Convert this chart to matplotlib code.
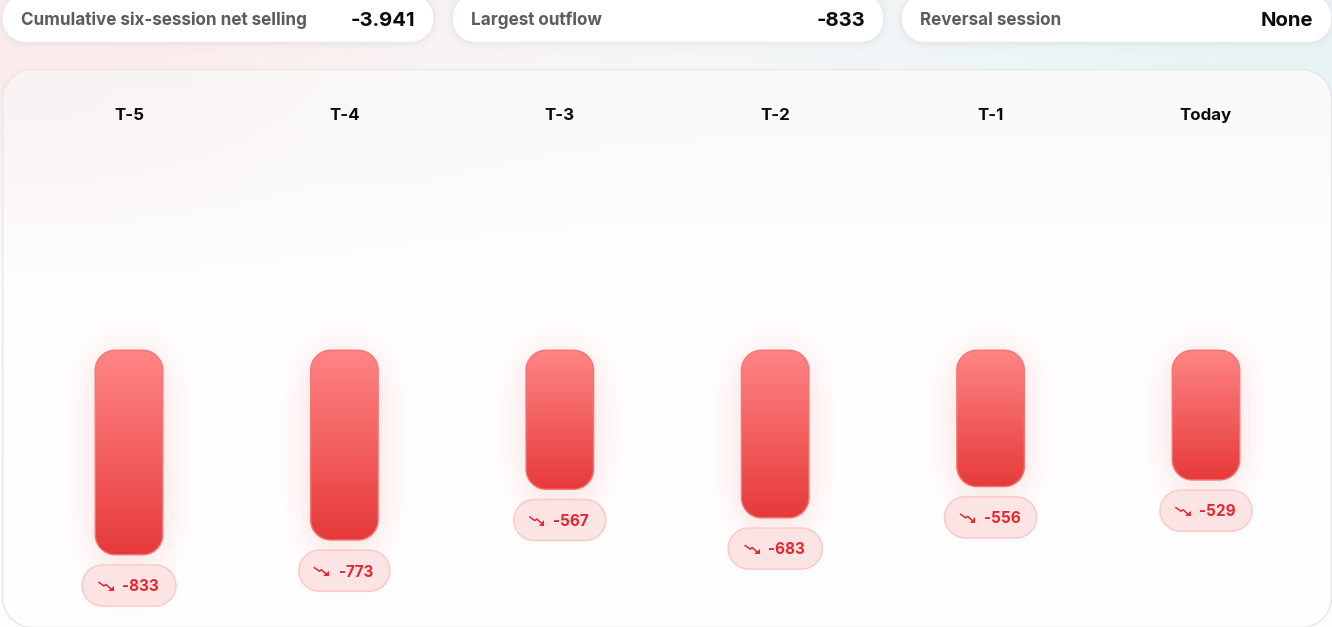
import numpy as np
import matplotlib
matplotlib.use("Agg")
import matplotlib.pyplot as plt
from matplotlib.patches import PathPatch
from matplotlib.path import Path
from matplotlib.colors import LinearSegmentedColormap

W, H = 1332, 627

sessions = ["T-5", "T-4", "T-3", "T-2", "T-1", "Today"]
net_flow = [-833, -773, -567, -683, -556, -529]
card_labels = ["Cumulative six-session net selling", "Largest outflow", "Reversal session"]
card_values = ["-3.941", "-833", "None"]

plt.rcParams['font.family'] = ['Inter', 'DejaVu Sans']


def rounded(x0, y0, x1, y1, r, **kw):
    # rounded box with proper circular corners
    c = r * (1 - 0.5523)
    verts = [(x0 + r, y0), (x1 - r, y0), (x1 - c, y0), (x1, y0 + c), (x1, y0 + r),
             (x1, y1 - r), (x1, y1 - c), (x1 - c, y1), (x1 - r, y1),
             (x0 + r, y1), (x0 + c, y1), (x0, y1 - c), (x0, y1 - r),
             (x0, y0 + r), (x0, y0 + c), (x0 + c, y0), (x0 + r, y0), (x0 + r, y0)]
    codes = [Path.MOVETO, Path.LINETO, Path.CURVE4, Path.CURVE4, Path.CURVE4,
             Path.LINETO, Path.CURVE4, Path.CURVE4, Path.CURVE4,
             Path.LINETO, Path.CURVE4, Path.CURVE4, Path.CURVE4,
             Path.LINETO, Path.CURVE4, Path.CURVE4, Path.CURVE4, Path.CLOSEPOLY]
    return PathPatch(Path(verts, codes), **kw)


def rr_mask(x0, y0, x1, y1, r):
    # antialiased mask of a rounded box on the pixel grid
    xx, yy = np.meshgrid(np.arange(W) + .5, np.arange(H) + .5)
    cx, cy = (x0 + x1) / 2, (y0 + y1) / 2
    qx = np.abs(xx - cx) - (x1 - x0) / 2 + r
    qy = np.abs(yy - cy) - (y1 - y0) / 2 + r
    d = np.hypot(np.maximum(qx, 0), np.maximum(qy, 0)) + np.minimum(np.maximum(qx, qy), 0) - r
    return np.clip(.5 - d, 0, 1)


def blur(m, sigma):
    k = np.exp(-.5 * (np.arange(-4*sigma, 4*sigma + 1) / sigma)**2)
    k /= k.sum()
    pad = len(k)
    m2 = np.pad(m, pad, mode='constant')
    m2 = np.apply_along_axis(lambda a: np.convolve(a, k, mode='same'), 0, m2)
    m2 = np.apply_along_axis(lambda a: np.convolve(a, k, mode='same'), 1, m2)
    return m2[pad:-pad, pad:-pad]


def over(img, color, alpha):
    c = np.array(matplotlib.colors.to_rgb(color))
    return img * (1 - alpha[..., None]) + c * alpha[..., None]


def soft(xx, yy, cx, cy, sx, sy):
    return np.exp(-.5 * (((xx - cx) / sx)**2 + ((yy - cy) / sy)**2))


fig = plt.figure(figsize=(W/100, H/100), dpi=100)

# value axes: sets where each bar sits, baseline at y=350px, 833 -> 205px
scale = 205 / 833
ax_val = fig.add_axes([0, 0, 1, 1], zorder=0)
step = 215.4
ax_val.set_xlim((0 - 129) / step, (W - 129) / step)
ax_val.set_ylim(-(H - 350) / scale, 350 / scale)
ax_val.axis('off')
bars = ax_val.bar(range(len(sessions)), net_flow, width=68 / step, color='none')

# pixel axes for the decoration
ax = fig.add_axes([0, 0, 1, 1], zorder=1)
ax.set_xlim(0, W)
ax.set_ylim(H, 0)
ax.axis('off')

geom = []
for b in bars:
    (x0, y0), (x1, y1) = ax_val.transData.transform(
        [(b.get_x(), b.get_y() + b.get_height()), (b.get_x() + b.get_width(), b.get_y())])
    geom.append((x0, H - y1, x1, H - y0))

# page background with soft tints
xx, yy = np.meshgrid(np.arange(W) + .5, np.arange(H) + .5)
bg = np.ones((H, W, 3))
bg = over(bg, '#f7f6f6', np.clip(1 - yy / 200, 0, 1))
bg = over(bg, '#fde8e8', soft(xx, yy, 10, 80, 320, 110) * .8)
bg = over(bg, '#e6f3f6', soft(xx, yy, 1320, 60, 380, 120) * .85)

# card shadows
cards = [(2, 434), (452, 884), (901, 1332)]
for x0, x1 in cards:
    bg = over(bg, '#000000', blur(rr_mask(x0, -6, x1, 45, 23), 4) * .05)

# panel
bg = over(bg, '#000000', blur(rr_mask(2, 71, W, 630, 30), 5) * .02)
bg = over(bg, '#e6e8e9', rr_mask(2, 69, W, 628, 30))
inner = rr_mask(3.4, 70.4, W - 1.4, 626.6, 29)
pc = np.ones((H, W, 3))
pc = over(pc, '#f8f8f8', np.clip(1 - (yy - 70) / 240, 0, 1) * .8)
pc = over(pc, '#fbdcdc', soft(xx, yy, 20, 110, 230, 90) * .22)
bg = bg * (1 - inner[..., None]) + pc * inner[..., None]

# bar glows and pill shadows
for x0, y0, x1, y1 in geom:
    bg = over(bg, '#ef4444', blur(rr_mask(x0, y0 + 2, x1, y1 + 10, 24), 20) * .2)
    bg = over(bg, '#000000', blur(rr_mask(x0 - 10, y1 + 12, x1 + 10, y1 + 56, 21), 6) * .02)

ax.imshow(bg, extent=(0, W, H, 0), aspect='auto', zorder=0, interpolation='nearest')

# top cards
for (x0, x1), lab, val in zip(cards, card_labels, card_values):
    ax.add_patch(rounded(x0, -6, x1, 42.5, 23, fc='white', ec='#e6e8e9', lw=1, zorder=1))
    ax.text(x0 + 19, 25, lab, fontsize=12.3, weight='bold', color='#5b5b60', va='baseline', ha='left', zorder=3)
    ax.text(min(x1 - 19, W - 19), 26.5, val, fontsize=14.6, weight='bold', color='#0b0b0f', va='baseline', ha='right', zorder=3)

# gradient bars
cmap = LinearSegmentedColormap.from_list('bar', ['#ff8585', '#e63a3a'])
grad = np.linspace(0, 1, 256)[:, None]
pills = [94, 91, 92, 94, 92, 92]
for i, (x0, y0, x1, y1) in enumerate(geom):
    im = ax.imshow(grad, cmap=cmap, extent=(x0, x1, y1, y0), aspect='auto', zorder=2)
    clip = rounded(x0 + .25, y0 + .25, x1 - .25, y1 - .25, 20, fc='none', ec='#f47575', lw=1, zorder=3)
    ax.add_patch(clip)
    im.set_clip_path(clip)

    # value pill under the bar
    cx = (x0 + x1) / 2
    pw = pills[i]
    ax.add_patch(rounded(cx - pw/2, y1 + 10, cx + pw/2, y1 + 51, 20.5,
                         fc='#fde4e4', ec='#fcc9c9', lw=1.1, zorder=3))
    ax.text(cx + 11.5, y1 + 36.3, str(net_flow[i]), fontsize=11, weight='bold', color='#e8262c',
            va='baseline', ha='center', zorder=4)
    # small falling arrow
    ax.plot([cx - 30, cx - 25, cx - 23, cx - 18],
            [y1 + 27.5, y1 + 31, y1 + 29.5, y1 + 34], color='#e8262c', lw=1.1, zorder=4)
    ax.fill([cx - 15.5, cx - 15.5, cx - 21], [y1 + 30.5, y1 + 36, y1 + 36], color='#e8262c', lw=0, zorder=4)

    ax.text(cx, 120, sessions[i], fontsize=12.2, weight='bold', color='#0b0b0f', va='baseline', ha='center', zorder=4)

ax.set_xlim(0, W)
ax.set_ylim(H, 0)
fig.savefig('out.png', dpi=100)
